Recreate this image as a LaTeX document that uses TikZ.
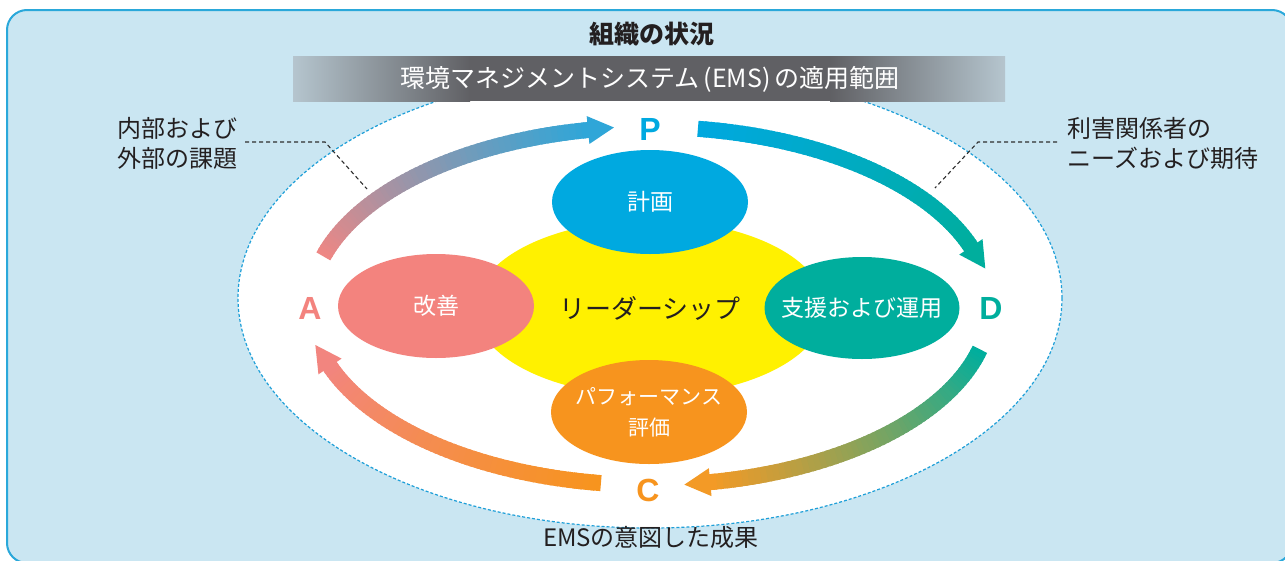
\documentclass[tikz,border=0pt]{standalone}
\usepackage{fontspec}
\setmainfont{Noto Sans CJK JP}
\newfontfamily\latinbold{Liberation Sans}
\usetikzlibrary{shapes.geometric}
\definecolor{bgblue}{HTML}{CAE6F2}
\definecolor{boxblue}{HTML}{2AA8DA}
\definecolor{dashblue}{HTML}{1E9FD8}
\definecolor{bannerdark}{HTML}{606064}
\definecolor{bannerlight}{HTML}{B5C5CE}
\definecolor{txtdark}{HTML}{231F20}
\definecolor{leadergray}{HTML}{2E2E2E}
\definecolor{cblue}{HTML}{00A9E0}
\definecolor{cpink}{HTML}{F3837E}
\definecolor{cteal}{HTML}{00AE9D}
\definecolor{corange}{HTML}{F7941E}
\definecolor{cyellow}{HTML}{FFF100}
\definecolor{apink}{HTML}{EE8784}
\definecolor{ablue}{HTML}{2FA6D8}
\definecolor{ablue2}{HTML}{00A8DF}
\definecolor{aorange}{HTML}{F39A26}
\definecolor{apink2}{HTML}{F2857F}
\def\cx{650}\def\cy{306}\def\rx{340}\def\ry{179}
\newcommand{\gradarc}[4]{%
  \foreach \i in {0,...,59}{%
    \pgfmathsetmacro{\ta}{#1+(#2-#1)*\i/60}%
    \pgfmathsetmacro{\tb}{#1+(#2-#1)*(\i+1.6)/60}%
    \pgfmathtruncatemacro{\pc}{100*\i/59}%
    \colorlet{segc}{#4!\pc!#3}%
    \draw[line width=16pt, segc, line cap=butt] ({\cx+\rx*cos(\ta)},{\cy-\ry*sin(\ta)}) -- ({\cx+\rx*cos(\tb)},{\cy-\ry*sin(\tb)});
  }%
  \pgfmathsetmacro{\hbx}{\cx+\rx*cos(#2)}%
  \pgfmathsetmacro{\hby}{\cy-\ry*sin(#2)}%
  \pgfmathsetmacro{\hdx}{\rx*sin(#2)}%
  \pgfmathsetmacro{\hdy}{\ry*cos(#2)}%
  \pgfmathsetmacro{\hdl}{veclen(\hdx,\hdy)}%
  \pgfmathsetmacro{\hux}{\hdx/\hdl}%
  \pgfmathsetmacro{\huy}{\hdy/\hdl}%
  \fill[#4] ({\hbx-14*\huy},{\hby+14*\hux}) -- ({\hbx+14*\huy},{\hby-14*\hux}) -- ({\hbx+26*\hux},{\hby+26*\huy}) -- cycle;
}
\tikzset{
  bubble/.style={ellipse, inner sep=0pt, minimum width=196pt, minimum height=104pt},
  bubbletext/.style={inner sep=0pt, text=white, font=\fontsize{23}{28}\selectfont},
  letter/.style={inner sep=0pt, font=\latinbold\bfseries\fontsize{32}{32}\selectfont},
  lbl/.style={text=txtdark, inner sep=0pt, font=\fontsize{24}{30}\selectfont},
  leader/.style={draw=leadergray, line width=1.1pt, dash pattern=on 4pt off 3pt},
}
\begin{document}
\begin{tikzpicture}[x=1pt,y=-1pt]
\clip (0,0) rectangle (1285,560);
\draw[fill=bgblue, draw=boxblue, line width=2pt, rounded corners=20pt] (7,10) rectangle (1292,563);
\draw[fill=white, draw=dashblue, line width=1.2pt, dash pattern=on 3pt off 2pt] (650,298) ellipse [x radius=412, y radius=230];
% banner
\shade[left color=bannerlight, right color=bannerdark] (293,56) rectangle (470,101);
\fill[bannerdark] (469,56) rectangle (831,101);
\shade[left color=bannerdark, right color=bannerlight] (830,56) rectangle (1005,101);
\node[text=white, inner sep=0pt, font=\fontsize{25}{28}\selectfont] (scope) at (650,79) {環境マネジメントシステム\hspace{4pt}(EMS)\hspace{4pt}の適用範囲};
\node[text=txtdark, inner sep=0pt, font=\bfseries\fontsize{25}{30}\selectfont] (ctx) at (652,34) {組織の状況};
% side labels
\node[lbl, align=left, anchor=west] (inext) at (117,143) {内部および\\外部の課題};
\node[lbl, align=left, anchor=west] (party) at (1067,143) {利害関係者の\\ニーズおよび期待};
\node[lbl] (result) at (651,537) {EMSの意図した成果};
\coordinate (l1) at (245,142); \coordinate (l2) at (325,142); \coordinate (l3) at (367,189);
\coordinate (r1) at (1057,142); \coordinate (r2) at (978,142); \coordinate (r3) at (935,188);
\draw[leader] (l1) -- (l2) -- (l3);
\draw[leader] (r1) -- (r2) -- (r3);
% central ellipses
\node[ellipse, fill=cyellow, inner sep=0pt, minimum width=350pt, minimum height=176pt] (lead) at (650,308) {};
\node[inner sep=0pt, text=txtdark, font=\fontsize{26}{30}\selectfont] (leadT) at (lead.center) {リーダーシップ};
\node[bubble, fill=cblue] (plan) at (650,202) {};
\node[bubbletext] (planT) at (plan.center) {計画};
\node[bubble, fill=cpink] (act) at (436,306) {};
\node[bubbletext] (actT) at (act.center) {改善};
\node[bubble, fill=cteal, minimum width=195pt, minimum height=102pt] (do) at (862,308) {};
\node[bubbletext] (doT) at (do.center) {支援および運用};
\node[bubble, fill=corange] (check) at (649,412) {};
\node[bubbletext, align=center, font=\fontsize{21}{31}\selectfont] (checkT) at (check.center) {パフォーマンス\\評価};
% PDCA letters
\node[letter, text=cblue] (P) at (650,129) {P};
\node[letter, text=cteal] (D) at (991,308) {D};
\node[letter, text=corange] (C) at (648,490) {C};
\node[letter, text=cpink] (A) at (310,308) {A};
% cycle arrows
\gradarc{163.9}{100.5}{apink}{ablue}
\gradarc{81.9}{19.3}{ablue2}{cteal}
\gradarc{-14}{-79.8}{cteal}{aorange}
\gradarc{-98.3}{-160.25}{corange}{apink2}
\end{tikzpicture}
\end{document}
